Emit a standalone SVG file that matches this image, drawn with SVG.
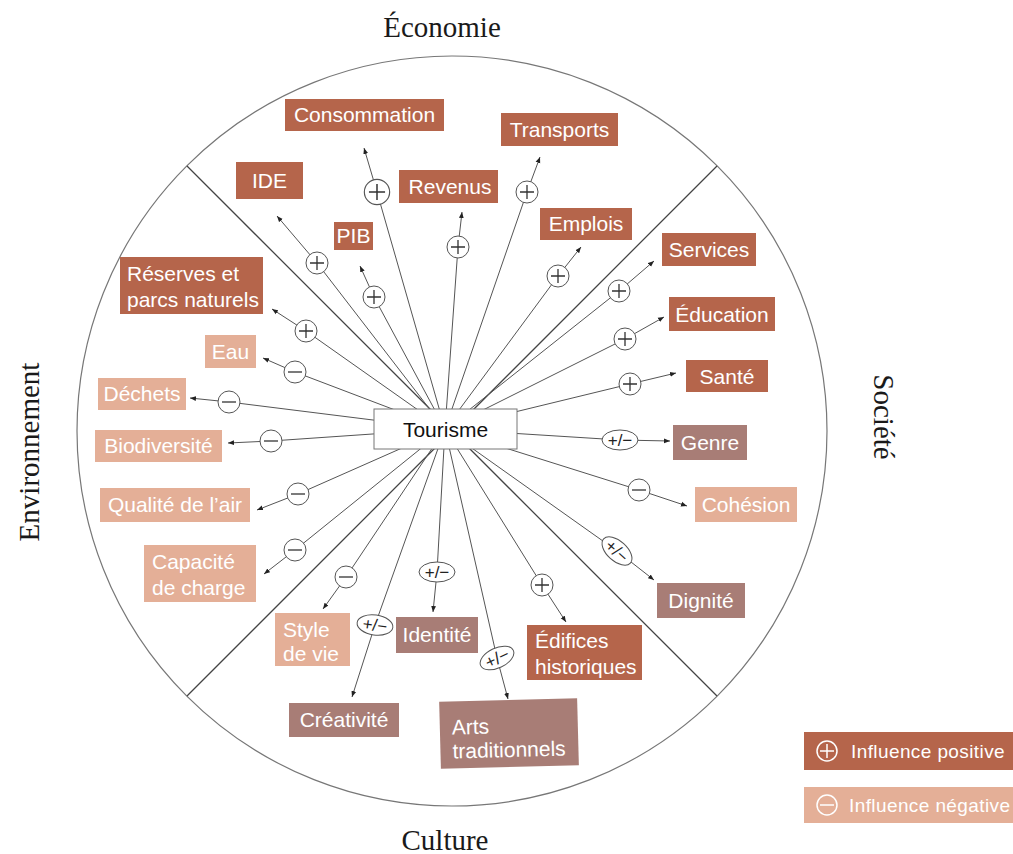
<svg xmlns="http://www.w3.org/2000/svg" xmlns:xlink="http://www.w3.org/1999/xlink" width="1013" height="854" viewBox="0 0 1013 854">
<style>
.sec{font-family:"Liberation Serif","DejaVu Serif",serif;font-size:29px;fill:#1a1a1a;text-anchor:middle}
.lbl{font-family:"Liberation Sans",Arial,sans-serif;font-size:21px;fill:#ffffff}
.c{text-anchor:middle}
.pos{fill:#b5654b}
.neg{fill:#e4af97}
.mix{fill:#a87d76}
.con{fill:none;stroke:#555;stroke-width:1}
.div{fill:none;stroke:#444;stroke-width:1.3}
.sym circle,.sym ellipse{fill:#fff;stroke:#555;stroke-width:1}
.sym path{stroke:#333;stroke-width:1.3;fill:none}
.pm{font-family:"Liberation Sans",Arial,sans-serif;font-size:17px;fill:#222;text-anchor:middle}
.leg{font-family:"Liberation Sans",Arial,sans-serif;font-size:19px;fill:#fff;letter-spacing:0.4px}
</style>
<defs>
<marker id="ah" viewBox="0 0 6 6" refX="6" refY="3" markerWidth="6" markerHeight="6" orient="auto" markerUnits="userSpaceOnUse"><path d="M0,0.6 L6,3 L0,5.4z" fill="#222"/></marker>
<g id="plus" class="sym"><circle r="11"/><path d="M-7,0H7M0,-7V7"/></g>
<g id="minus" class="sym"><circle r="11"/><path d="M-7,0H7"/></g>
<g id="pmx" class="sym"><ellipse rx="18" ry="10"/><text class="pm" y="6">+/−</text></g>
</defs>
<rect width="1013" height="854" fill="#fff"/>

<g id="frame">
<circle cx="452" cy="431" r="375" fill="none" stroke="#777" stroke-width="1.2"/>
<path class="div" d="M187,166L452,431M717,166L452,431M187,696L452,431M717,696L452,431"/>
<text class="sec" x="442" y="37">Économie</text>
<text class="sec" x="445" y="850">Culture</text>
<text class="sec" transform="translate(39,452) rotate(-90)">Environnement</text>
<text class="sec" transform="translate(874,417) rotate(90)">Société</text>
</g>

<g id="connectors">
<path class="con" marker-end="url(#ah)" d="M445,429L377,192L364,148"/>
<path class="con" marker-end="url(#ah)" d="M445,429L317,263L277,216"/>
<path class="con" marker-end="url(#ah)" d="M445,429L374,297L360,266"/>
<path class="con" marker-end="url(#ah)" d="M445,429L458,247L462,212"/>
<path class="con" marker-end="url(#ah)" d="M445,429L527,192L540,157"/>
<path class="con" marker-end="url(#ah)" d="M445,429L558,276L581,247"/>
<path class="con" marker-end="url(#ah)" d="M445,429L619,291L654,261"/>
<path class="con" marker-end="url(#ah)" d="M445,429L625,339L664,317"/>
<path class="con" marker-end="url(#ah)" d="M445,429L630,384L676,373"/>
<path class="con" marker-end="url(#ah)" d="M445,429L620,440L670,441"/>
<path class="con" marker-end="url(#ah)" d="M445,429L639,490L687,506"/>
<path class="con" marker-end="url(#ah)" d="M445,429L617,551L654,580"/>
<path class="con" marker-end="url(#ah)" d="M445,429L542,585L566,622"/>
<path class="con" marker-end="url(#ah)" d="M445,429L497,658L508,699"/>
<path class="con" marker-end="url(#ah)" d="M445,429L437,572L433,612"/>
<path class="con" marker-end="url(#ah)" d="M445,429L375,625L352,697"/>
<path class="con" marker-end="url(#ah)" d="M445,429L346,577L323,609"/>
<path class="con" marker-end="url(#ah)" d="M445,429L295,550L264,574"/>
<path class="con" marker-end="url(#ah)" d="M445,429L298,494L257,510"/>
<path class="con" marker-end="url(#ah)" d="M445,429L271,441L228,443"/>
<path class="con" marker-end="url(#ah)" d="M445,429L229,402L190,398"/>
<path class="con" marker-end="url(#ah)" d="M445,429L295,372L263,358"/>
<path class="con" marker-end="url(#ah)" d="M445,429L306,331L272,309"/>
<use xlink:href="#plus" href="#plus" transform="translate(377,192) scale(1.15)"/>
<use xlink:href="#plus" href="#plus" transform="translate(317,263)"/>
<use xlink:href="#plus" href="#plus" transform="translate(374,297)"/>
<use xlink:href="#plus" href="#plus" transform="translate(458,247)"/>
<use xlink:href="#plus" href="#plus" transform="translate(527,192)"/>
<use xlink:href="#plus" href="#plus" transform="translate(558,276)"/>
<use xlink:href="#plus" href="#plus" transform="translate(619,291)"/>
<use xlink:href="#plus" href="#plus" transform="translate(625,339)"/>
<use xlink:href="#plus" href="#plus" transform="translate(630,384)"/>
<use xlink:href="#pmx" href="#pmx" transform="translate(620,440)"/>
<use xlink:href="#minus" href="#minus" transform="translate(639,490)"/>
<use xlink:href="#pmx" href="#pmx" transform="translate(617,551) rotate(42)"/>
<use xlink:href="#plus" href="#plus" transform="translate(542,585)"/>
<use xlink:href="#pmx" href="#pmx" transform="translate(497,658) rotate(-25)"/>
<use xlink:href="#pmx" href="#pmx" transform="translate(437,572)"/>
<use xlink:href="#pmx" href="#pmx" transform="translate(375,625) rotate(8)"/>
<use xlink:href="#minus" href="#minus" transform="translate(346,577)"/>
<use xlink:href="#minus" href="#minus" transform="translate(295,550)"/>
<use xlink:href="#minus" href="#minus" transform="translate(298,494)"/>
<use xlink:href="#minus" href="#minus" transform="translate(271,441)"/>
<use xlink:href="#minus" href="#minus" transform="translate(229,402)"/>
<use xlink:href="#minus" href="#minus" transform="translate(295,372)"/>
<use xlink:href="#plus" href="#plus" transform="translate(306,331)"/>
</g>

<g id="tourisme">
<rect x="374" y="409" width="143" height="40" fill="#fff" stroke="#777" stroke-width="1"/>
<text x="445.5" y="437" font-family="Liberation Sans,Arial,sans-serif" font-size="21" fill="#111" text-anchor="middle">Tourisme</text>
</g>

<g id="consommation"><rect class="pos" x="285" y="99" width="159" height="32"/><text class="lbl c" x="364.5" y="122">Consommation</text></g>
<g id="transports"><rect class="pos" x="501" y="113" width="117" height="33"/><text class="lbl c" x="559.5" y="137">Transports</text></g>
<g id="ide"><rect class="pos" x="236" y="162" width="67" height="37"/><text class="lbl c" x="269.5" y="188">IDE</text></g>
<g id="revenus"><rect class="pos" x="399" y="170" width="99" height="33"/><text class="lbl c" x="450" y="194">Revenus</text></g>
<g id="pib"><rect class="pos" x="334" y="222" width="39" height="28"/><text class="lbl c" x="353.5" y="243">PIB</text></g>
<g id="emplois"><rect class="pos" x="540" y="208" width="92" height="32"/><text class="lbl c" x="586" y="231">Emplois</text></g>
<g id="services"><rect class="pos" x="662" y="233" width="94" height="33"/><text class="lbl c" x="709" y="257">Services</text></g>
<g id="education"><rect class="pos" x="669" y="297" width="106" height="34"/><text class="lbl c" x="722" y="322">Éducation</text></g>
<g id="sante"><rect class="pos" x="686" y="360" width="82" height="32"/><text class="lbl c" x="727" y="384">Santé</text></g>
<g id="genre"><rect class="mix" x="673" y="425" width="74" height="35"/><text class="lbl c" x="710" y="450">Genre</text></g>
<g id="cohesion"><rect class="neg" x="695" y="487" width="102" height="35"/><text class="lbl c" x="746" y="512">Cohésion</text></g>
<g id="dignite"><rect class="mix" x="657" y="583" width="88" height="35"/><text class="lbl c" x="701" y="608">Dignité</text></g>
<g id="edifices"><rect class="pos" x="527" y="625" width="115" height="55"/><text class="lbl" x="535" y="648">Édifices</text><text class="lbl" x="535" y="674">historiques</text></g>
<g id="identite"><rect class="mix" x="396" y="617" width="82" height="36"/><text class="lbl c" x="437" y="642">Identité</text></g>
<g id="style"><rect class="neg" x="275" y="613" width="75" height="53"/><text class="lbl" x="283" y="637">Style</text><text class="lbl" x="283" y="661">de vie</text></g>
<g id="creativite"><rect class="mix" x="289" y="703" width="110" height="34"/><text class="lbl c" x="344" y="727">Créativité</text></g>
<g id="arts" transform="rotate(-1.5 509 733)"><rect class="mix" x="440" y="700" width="138" height="67"/><text class="lbl" x="452" y="733">Arts</text><text class="lbl" x="452" y="757">traditionnels</text></g>
<g id="capacite"><rect class="neg" x="144" y="545" width="112" height="57"/><text class="lbl" x="152" y="569">Capacité</text><text class="lbl" x="152" y="595">de charge</text></g>
<g id="qualite"><rect class="neg" x="100" y="488" width="150" height="34"/><text class="lbl c" x="175" y="512">Qualité de l’air</text></g>
<g id="biodiversite"><rect class="neg" x="95" y="430" width="127" height="32"/><text class="lbl c" x="158.5" y="453">Biodiversité</text></g>
<g id="dechets"><rect class="neg" x="98" y="378" width="88" height="32"/><text class="lbl c" x="142" y="401">Déchets</text></g>
<g id="eau"><rect class="neg" x="205" y="335" width="51" height="33"/><text class="lbl c" x="230.5" y="359">Eau</text></g>
<g id="reserves"><rect class="pos" x="120" y="257" width="143" height="57"/><text class="lbl" x="127" y="281">Réserves et</text><text class="lbl" x="127" y="307">parcs naturels</text></g>

<g id="legend">
<g id="leg-pos"><rect class="pos" x="804" y="732" width="209" height="38"/><circle cx="827" cy="751" r="10" fill="none" stroke="#fff" stroke-width="1.5"/><path d="M820,751H834M827,744V758" stroke="#fff" stroke-width="1.5"/><text class="leg" x="851" y="758">Influence positive</text></g>
<g id="leg-neg"><rect class="neg" x="804" y="787" width="209" height="36"/><circle cx="827" cy="805" r="10" fill="none" stroke="#fff" stroke-width="1.5"/><path d="M820,805H834" stroke="#fff" stroke-width="1.5"/><text class="leg" x="849" y="812">Influence négative</text></g>
</g>
</svg>
